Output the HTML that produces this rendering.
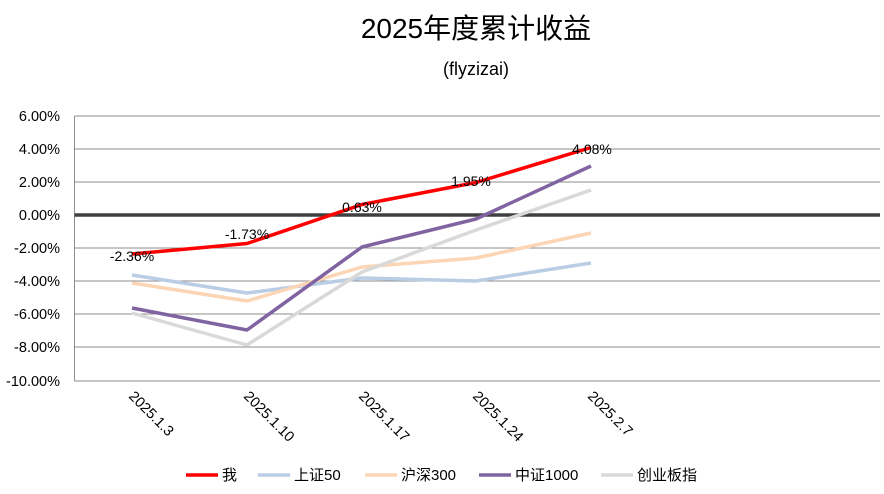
<!DOCTYPE html>
<html><head><meta charset="utf-8"><style>
body{margin:0;background:#fff;}
svg text{font-family:"Liberation Sans","Noto Sans CJK SC",sans-serif;fill:#000;}
</style></head><body>
<svg width="884" height="489" viewBox="0 0 884 489" xmlns="http://www.w3.org/2000/svg">
<rect width="884" height="489" fill="#fff"/>
<text x="476" y="38" font-size="28" text-anchor="middle">2025年度累计收益</text>
<text x="476" y="75" font-size="18" text-anchor="middle">(flyzizai)</text>
<g stroke="#8c8c8c" stroke-width="1">
<line x1="74.5" y1="116" x2="880" y2="116"/>
<line x1="74.5" y1="149" x2="880" y2="149"/>
<line x1="74.5" y1="182" x2="880" y2="182"/>
<line x1="74.5" y1="248" x2="880" y2="248"/>
<line x1="74.5" y1="281" x2="880" y2="281"/>
<line x1="74.5" y1="314" x2="880" y2="314"/>
<line x1="74.5" y1="347" x2="880" y2="347"/>
<line x1="74.5" y1="381" x2="880" y2="381"/>
<line x1="74.5" y1="116" x2="74.5" y2="381"/>
</g>
<line x1="74.5" y1="215" x2="880" y2="215" stroke="#404040" stroke-width="3.5"/>
<g font-size="14.5" text-anchor="end">
<text x="60" y="121">6.00%</text>
<text x="60" y="154">4.00%</text>
<text x="60" y="187">2.00%</text>
<text x="60" y="220">0.00%</text>
<text x="60" y="253">-2.00%</text>
<text x="60" y="286">-4.00%</text>
<text x="60" y="319">-6.00%</text>
<text x="60" y="352">-8.00%</text>
<text x="60" y="386">-10.00%</text>
</g>
<g font-size="14.5">
<text transform="translate(128,397) rotate(45)">2025.1.3</text>
<text transform="translate(243,397) rotate(45)">2025.1.10</text>
<text transform="translate(358,397) rotate(45)">2025.1.17</text>
<text transform="translate(472,397) rotate(45)">2025.1.24</text>
<text transform="translate(587,397) rotate(45)">2025.2.7</text>
</g>
<g fill="none" stroke-width="3.5" stroke-linejoin="round">
<polyline stroke="#b9cde5" points="132,275 247,293 362,278 476,281 591,263"/>
<polyline stroke="#fcd5b5" points="132,283 247,301 362,267 476,258 591,233"/>
<polyline stroke="#d9d9d9" points="132,313 247,345 362,272 476,230 591,190"/>
<polyline stroke="#8064a2" points="132,308 247,330 362,247 476,219 591,166"/>
<polyline stroke="#ff0000" points="132,254 247,243.5 362,204.5 476,182.5 591,147.5"/>
</g>
<g font-size="14" text-anchor="middle">
<text x="132" y="261">-2.36%</text>
<text x="247" y="239">-1.73%</text>
<text x="362" y="212">0.63%</text>
<text x="471" y="186">1.95%</text>
<text x="592" y="154">4.08%</text>
</g>
<g font-size="15" stroke-width="3.5">
<line x1="186" y1="475" x2="218" y2="475" stroke="#ff0000"/><text x="222" y="480">我</text>
<line x1="258" y1="475" x2="290" y2="475" stroke="#b9cde5"/><text x="294" y="480">上证50</text>
<line x1="365" y1="475" x2="397" y2="475" stroke="#fcd5b5"/><text x="401" y="480">沪深300</text>
<line x1="479" y1="475" x2="511" y2="475" stroke="#8064a2"/><text x="515" y="480">中证1000</text>
<line x1="601" y1="475" x2="633" y2="475" stroke="#d9d9d9"/><text x="637" y="480">创业板指</text>
</g>
</svg>
</body></html>
